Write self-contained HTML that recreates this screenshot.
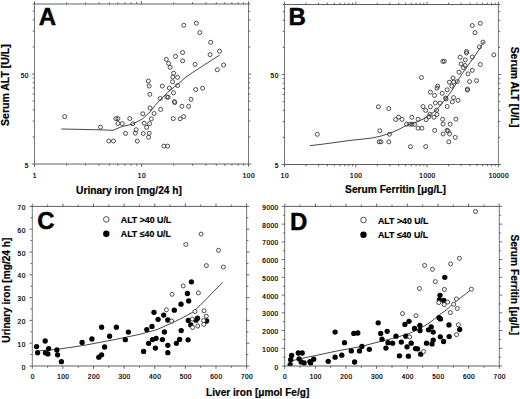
<!DOCTYPE html>
<html><head><meta charset="utf-8"><style>
html,body{margin:0;padding:0;background:#fff;}
body{width:520px;height:399px;overflow:hidden;font-family:"Liberation Sans",sans-serif;}
svg{display:block;}
</style></head><body>
<svg width="520" height="399" viewBox="0 0 520 399" font-family="Liberation Sans, sans-serif">
<rect width="520" height="399" fill="#fff"/>
<defs>
<clipPath id="cA"><rect x="34.5" y="4" width="214" height="160"/></clipPath>
<clipPath id="cB"><rect x="284.5" y="4.5" width="213.9" height="160"/></clipPath>
<clipPath id="cC"><rect x="32.3" y="206.4" width="214.3" height="159.6"/></clipPath>
<clipPath id="cD"><rect x="284.7" y="206.4" width="214.6" height="159.6"/></clipPath>
</defs>
<g clip-path="url(#cA)">
<path d="M61.7 129 L100 129.8 L113 130.3 L122 126.5 L132.5 124.2 L142.6 118.8 L150.1 111.9 L155 105.5 L159.5 100.5 L167.5 92.5 L171 89.6 L180 82.3 L186 77 L192.5 72.6 L200.2 67.6 L205 64.4 L212 60 L219.5 55.2" fill="none" stroke="#333" stroke-width="0.9" stroke-linejoin="round" stroke-linecap="round"/>
<circle cx="64.7" cy="116.6" r="2.0" fill="none" stroke="#3a3a3a" stroke-width="0.9"/>
<circle cx="100.5" cy="127.2" r="2.0" fill="none" stroke="#3a3a3a" stroke-width="0.9"/>
<circle cx="108.8" cy="141" r="2.0" fill="none" stroke="#3a3a3a" stroke-width="0.9"/>
<circle cx="113.5" cy="141" r="2.0" fill="none" stroke="#3a3a3a" stroke-width="0.9"/>
<circle cx="115.8" cy="118.6" r="2.0" fill="none" stroke="#3a3a3a" stroke-width="0.9"/>
<circle cx="117.9" cy="118.6" r="2.0" fill="none" stroke="#3a3a3a" stroke-width="0.9"/>
<circle cx="117.9" cy="123.5" r="2.0" fill="none" stroke="#3a3a3a" stroke-width="0.9"/>
<circle cx="122.3" cy="123.5" r="2.0" fill="none" stroke="#3a3a3a" stroke-width="0.9"/>
<circle cx="125.5" cy="133.4" r="2.0" fill="none" stroke="#3a3a3a" stroke-width="0.9"/>
<circle cx="129.8" cy="118.5" r="2.0" fill="none" stroke="#3a3a3a" stroke-width="0.9"/>
<circle cx="132.8" cy="123.8" r="2.0" fill="none" stroke="#3a3a3a" stroke-width="0.9"/>
<circle cx="136.1" cy="129.7" r="2.0" fill="none" stroke="#3a3a3a" stroke-width="0.9"/>
<circle cx="135.3" cy="133.2" r="2.0" fill="none" stroke="#3a3a3a" stroke-width="0.9"/>
<circle cx="137.3" cy="141.1" r="2.0" fill="none" stroke="#3a3a3a" stroke-width="0.9"/>
<circle cx="142.8" cy="113.8" r="2.0" fill="none" stroke="#3a3a3a" stroke-width="0.9"/>
<circle cx="144.1" cy="123.2" r="2.0" fill="none" stroke="#3a3a3a" stroke-width="0.9"/>
<circle cx="143.2" cy="133.5" r="2.0" fill="none" stroke="#3a3a3a" stroke-width="0.9"/>
<circle cx="146.6" cy="127.3" r="2.0" fill="none" stroke="#3a3a3a" stroke-width="0.9"/>
<circle cx="149.5" cy="123.6" r="2.0" fill="none" stroke="#3a3a3a" stroke-width="0.9"/>
<circle cx="149.2" cy="133.2" r="2.0" fill="none" stroke="#3a3a3a" stroke-width="0.9"/>
<circle cx="148.6" cy="137.2" r="2.0" fill="none" stroke="#3a3a3a" stroke-width="0.9"/>
<circle cx="150.1" cy="108.1" r="2.0" fill="none" stroke="#3a3a3a" stroke-width="0.9"/>
<circle cx="151.3" cy="118.8" r="2.0" fill="none" stroke="#3a3a3a" stroke-width="0.9"/>
<circle cx="154.1" cy="113.5" r="2.0" fill="none" stroke="#3a3a3a" stroke-width="0.9"/>
<circle cx="160.7" cy="109.4" r="2.0" fill="none" stroke="#3a3a3a" stroke-width="0.9"/>
<circle cx="163.9" cy="146.1" r="2.0" fill="none" stroke="#3a3a3a" stroke-width="0.9"/>
<circle cx="167.6" cy="146.1" r="2.0" fill="none" stroke="#3a3a3a" stroke-width="0.9"/>
<circle cx="173.3" cy="118.6" r="2.0" fill="none" stroke="#3a3a3a" stroke-width="0.9"/>
<circle cx="180.1" cy="118.8" r="2.0" fill="none" stroke="#3a3a3a" stroke-width="0.9"/>
<circle cx="183.6" cy="116.6" r="2.0" fill="none" stroke="#3a3a3a" stroke-width="0.9"/>
<circle cx="160.3" cy="98.5" r="2.0" fill="none" stroke="#3a3a3a" stroke-width="0.9"/>
<circle cx="166.9" cy="96.9" r="2.0" fill="none" stroke="#3a3a3a" stroke-width="0.9"/>
<circle cx="168.2" cy="97.3" r="2.0" fill="none" stroke="#3a3a3a" stroke-width="0.9"/>
<circle cx="174.4" cy="101.6" r="2.0" fill="none" stroke="#3a3a3a" stroke-width="0.9"/>
<circle cx="174.8" cy="102.6" r="2.0" fill="none" stroke="#3a3a3a" stroke-width="0.9"/>
<circle cx="173.5" cy="92.8" r="2.0" fill="none" stroke="#3a3a3a" stroke-width="0.9"/>
<circle cx="172.6" cy="81.8" r="2.0" fill="none" stroke="#3a3a3a" stroke-width="0.9"/>
<circle cx="162.3" cy="86.1" r="2.0" fill="none" stroke="#3a3a3a" stroke-width="0.9"/>
<circle cx="169.4" cy="88" r="2.0" fill="none" stroke="#3a3a3a" stroke-width="0.9"/>
<circle cx="177.6" cy="85.5" r="2.0" fill="none" stroke="#3a3a3a" stroke-width="0.9"/>
<circle cx="195.7" cy="89.5" r="2.0" fill="none" stroke="#3a3a3a" stroke-width="0.9"/>
<circle cx="202.6" cy="88.2" r="2.0" fill="none" stroke="#3a3a3a" stroke-width="0.9"/>
<circle cx="191.1" cy="99.3" r="2.0" fill="none" stroke="#3a3a3a" stroke-width="0.9"/>
<circle cx="181.9" cy="106.3" r="2.0" fill="none" stroke="#3a3a3a" stroke-width="0.9"/>
<circle cx="188.6" cy="106.3" r="2.0" fill="none" stroke="#3a3a3a" stroke-width="0.9"/>
<circle cx="148.4" cy="81" r="2.0" fill="none" stroke="#3a3a3a" stroke-width="0.9"/>
<circle cx="149.2" cy="86" r="2.0" fill="none" stroke="#3a3a3a" stroke-width="0.9"/>
<circle cx="149.8" cy="94.3" r="2.0" fill="none" stroke="#3a3a3a" stroke-width="0.9"/>
<circle cx="173.6" cy="73.2" r="2.0" fill="none" stroke="#3a3a3a" stroke-width="0.9"/>
<circle cx="172.8" cy="77" r="2.0" fill="none" stroke="#3a3a3a" stroke-width="0.9"/>
<circle cx="177.6" cy="77.3" r="2.0" fill="none" stroke="#3a3a3a" stroke-width="0.9"/>
<circle cx="166.3" cy="59.4" r="2.0" fill="none" stroke="#3a3a3a" stroke-width="0.9"/>
<circle cx="168.6" cy="63.4" r="2.0" fill="none" stroke="#3a3a3a" stroke-width="0.9"/>
<circle cx="170.1" cy="67.3" r="2.0" fill="none" stroke="#3a3a3a" stroke-width="0.9"/>
<circle cx="175.5" cy="56.3" r="2.0" fill="none" stroke="#3a3a3a" stroke-width="0.9"/>
<circle cx="182.6" cy="52.5" r="2.0" fill="none" stroke="#3a3a3a" stroke-width="0.9"/>
<circle cx="182.6" cy="60.8" r="2.0" fill="none" stroke="#3a3a3a" stroke-width="0.9"/>
<circle cx="195.1" cy="64.4" r="2.0" fill="none" stroke="#3a3a3a" stroke-width="0.9"/>
<circle cx="183.8" cy="25.3" r="2.0" fill="none" stroke="#3a3a3a" stroke-width="0.9"/>
<circle cx="196.3" cy="23.2" r="2.0" fill="none" stroke="#3a3a3a" stroke-width="0.9"/>
<circle cx="199.8" cy="32.6" r="2.0" fill="none" stroke="#3a3a3a" stroke-width="0.9"/>
<circle cx="210.7" cy="42.3" r="2.0" fill="none" stroke="#3a3a3a" stroke-width="0.9"/>
<circle cx="219.5" cy="51.2" r="2.0" fill="none" stroke="#3a3a3a" stroke-width="0.9"/>
<circle cx="210.1" cy="54.6" r="2.0" fill="none" stroke="#3a3a3a" stroke-width="0.9"/>
<circle cx="223.6" cy="65" r="2.0" fill="none" stroke="#3a3a3a" stroke-width="0.9"/>
<circle cx="217.3" cy="69.8" r="2.0" fill="none" stroke="#3a3a3a" stroke-width="0.9"/>
</g>
<g clip-path="url(#cB)">
<path d="M310.2 145.6 L320 144.5 L335 142.5 L350 140.4 L362 139.2 L372 138 L380 136.3 L389.5 133.5 L397.7 130 L406.4 125.4 L416.9 121.9 L424 118.6 L431.8 113.4 L437 109.5 L445.2 99.3 L450.3 93 L454.8 85.8 L462.7 72.8 L472 60 L479.1 49.5 L483.6 42.1" fill="none" stroke="#333" stroke-width="0.9" stroke-linejoin="round" stroke-linecap="round"/>
<circle cx="317.3" cy="134.3" r="2.0" fill="none" stroke="#3a3a3a" stroke-width="0.9"/>
<circle cx="378.4" cy="106.8" r="2.0" fill="none" stroke="#3a3a3a" stroke-width="0.9"/>
<circle cx="388.8" cy="108.6" r="2.0" fill="none" stroke="#3a3a3a" stroke-width="0.9"/>
<circle cx="379.8" cy="130.8" r="2.0" fill="none" stroke="#3a3a3a" stroke-width="0.9"/>
<circle cx="389.5" cy="134.2" r="2.0" fill="none" stroke="#3a3a3a" stroke-width="0.9"/>
<circle cx="379.2" cy="141.8" r="2.0" fill="none" stroke="#3a3a3a" stroke-width="0.9"/>
<circle cx="381" cy="141.8" r="2.0" fill="none" stroke="#3a3a3a" stroke-width="0.9"/>
<circle cx="388.8" cy="141.9" r="2.0" fill="none" stroke="#3a3a3a" stroke-width="0.9"/>
<circle cx="410.4" cy="146.7" r="2.0" fill="none" stroke="#3a3a3a" stroke-width="0.9"/>
<circle cx="425.7" cy="146.6" r="2.0" fill="none" stroke="#3a3a3a" stroke-width="0.9"/>
<circle cx="395.7" cy="119.5" r="2.0" fill="none" stroke="#3a3a3a" stroke-width="0.9"/>
<circle cx="398.5" cy="117.1" r="2.0" fill="none" stroke="#3a3a3a" stroke-width="0.9"/>
<circle cx="402" cy="119.4" r="2.0" fill="none" stroke="#3a3a3a" stroke-width="0.9"/>
<circle cx="411.8" cy="117.3" r="2.0" fill="none" stroke="#3a3a3a" stroke-width="0.9"/>
<circle cx="406.5" cy="124.2" r="2.0" fill="none" stroke="#3a3a3a" stroke-width="0.9"/>
<circle cx="409.8" cy="124.2" r="2.0" fill="none" stroke="#3a3a3a" stroke-width="0.9"/>
<circle cx="412" cy="124.2" r="2.0" fill="none" stroke="#3a3a3a" stroke-width="0.9"/>
<circle cx="414.6" cy="124.4" r="2.0" fill="none" stroke="#3a3a3a" stroke-width="0.9"/>
<circle cx="418.1" cy="119.3" r="2.0" fill="none" stroke="#3a3a3a" stroke-width="0.9"/>
<circle cx="418.1" cy="128.2" r="2.0" fill="none" stroke="#3a3a3a" stroke-width="0.9"/>
<circle cx="421.9" cy="128.2" r="2.0" fill="none" stroke="#3a3a3a" stroke-width="0.9"/>
<circle cx="423" cy="106.6" r="2.0" fill="none" stroke="#3a3a3a" stroke-width="0.9"/>
<circle cx="430.4" cy="106.7" r="2.0" fill="none" stroke="#3a3a3a" stroke-width="0.9"/>
<circle cx="425.7" cy="110.4" r="2.0" fill="none" stroke="#3a3a3a" stroke-width="0.9"/>
<circle cx="426.1" cy="119.7" r="2.0" fill="none" stroke="#3a3a3a" stroke-width="0.9"/>
<circle cx="428.8" cy="116.8" r="2.0" fill="none" stroke="#3a3a3a" stroke-width="0.9"/>
<circle cx="430" cy="114.2" r="2.0" fill="none" stroke="#3a3a3a" stroke-width="0.9"/>
<circle cx="434" cy="117.2" r="2.0" fill="none" stroke="#3a3a3a" stroke-width="0.9"/>
<circle cx="434.7" cy="130.4" r="2.0" fill="none" stroke="#3a3a3a" stroke-width="0.9"/>
<circle cx="436.5" cy="110.2" r="2.0" fill="none" stroke="#3a3a3a" stroke-width="0.9"/>
<circle cx="436.9" cy="114.5" r="2.0" fill="none" stroke="#3a3a3a" stroke-width="0.9"/>
<circle cx="442.6" cy="119.3" r="2.0" fill="none" stroke="#3a3a3a" stroke-width="0.9"/>
<circle cx="455.9" cy="119.2" r="2.0" fill="none" stroke="#3a3a3a" stroke-width="0.9"/>
<circle cx="443.1" cy="124.1" r="2.0" fill="none" stroke="#3a3a3a" stroke-width="0.9"/>
<circle cx="450.2" cy="124.2" r="2.0" fill="none" stroke="#3a3a3a" stroke-width="0.9"/>
<circle cx="447.1" cy="130.3" r="2.0" fill="none" stroke="#3a3a3a" stroke-width="0.9"/>
<circle cx="448" cy="131" r="2.0" fill="none" stroke="#3a3a3a" stroke-width="0.9"/>
<circle cx="443.1" cy="134" r="2.0" fill="none" stroke="#3a3a3a" stroke-width="0.9"/>
<circle cx="449.6" cy="134" r="2.0" fill="none" stroke="#3a3a3a" stroke-width="0.9"/>
<circle cx="455.2" cy="137.4" r="2.0" fill="none" stroke="#3a3a3a" stroke-width="0.9"/>
<circle cx="448.8" cy="141.8" r="2.0" fill="none" stroke="#3a3a3a" stroke-width="0.9"/>
<circle cx="421.4" cy="77.5" r="2.0" fill="none" stroke="#3a3a3a" stroke-width="0.9"/>
<circle cx="430.4" cy="92.2" r="2.0" fill="none" stroke="#3a3a3a" stroke-width="0.9"/>
<circle cx="434.5" cy="95.4" r="2.0" fill="none" stroke="#3a3a3a" stroke-width="0.9"/>
<circle cx="442.2" cy="93.3" r="2.0" fill="none" stroke="#3a3a3a" stroke-width="0.9"/>
<circle cx="435.4" cy="103" r="2.0" fill="none" stroke="#3a3a3a" stroke-width="0.9"/>
<circle cx="440.1" cy="103.1" r="2.0" fill="none" stroke="#3a3a3a" stroke-width="0.9"/>
<circle cx="447.2" cy="106.5" r="2.0" fill="none" stroke="#3a3a3a" stroke-width="0.9"/>
<circle cx="437" cy="88.1" r="2.0" fill="none" stroke="#3a3a3a" stroke-width="0.9"/>
<circle cx="437.7" cy="86.1" r="2.0" fill="none" stroke="#3a3a3a" stroke-width="0.9"/>
<circle cx="447.2" cy="89.8" r="2.0" fill="none" stroke="#3a3a3a" stroke-width="0.9"/>
<circle cx="445.6" cy="98" r="2.0" fill="none" stroke="#3a3a3a" stroke-width="0.9"/>
<circle cx="446.1" cy="98.9" r="2.0" fill="none" stroke="#3a3a3a" stroke-width="0.9"/>
<circle cx="453.5" cy="97.6" r="2.0" fill="none" stroke="#3a3a3a" stroke-width="0.9"/>
<circle cx="458" cy="100.4" r="2.0" fill="none" stroke="#3a3a3a" stroke-width="0.9"/>
<circle cx="452.3" cy="101.9" r="2.0" fill="none" stroke="#3a3a3a" stroke-width="0.9"/>
<circle cx="451.8" cy="86.1" r="2.0" fill="none" stroke="#3a3a3a" stroke-width="0.9"/>
<circle cx="467.4" cy="89" r="2.0" fill="none" stroke="#3a3a3a" stroke-width="0.9"/>
<circle cx="467.4" cy="90.1" r="2.0" fill="none" stroke="#3a3a3a" stroke-width="0.9"/>
<circle cx="449.4" cy="82.2" r="2.0" fill="none" stroke="#3a3a3a" stroke-width="0.9"/>
<circle cx="453.7" cy="82" r="2.0" fill="none" stroke="#3a3a3a" stroke-width="0.9"/>
<circle cx="457.3" cy="81.6" r="2.0" fill="none" stroke="#3a3a3a" stroke-width="0.9"/>
<circle cx="469.5" cy="81.6" r="2.0" fill="none" stroke="#3a3a3a" stroke-width="0.9"/>
<circle cx="476.5" cy="80.7" r="2.0" fill="none" stroke="#3a3a3a" stroke-width="0.9"/>
<circle cx="453.1" cy="78" r="2.0" fill="none" stroke="#3a3a3a" stroke-width="0.9"/>
<circle cx="459" cy="72.2" r="2.0" fill="none" stroke="#3a3a3a" stroke-width="0.9"/>
<circle cx="468.1" cy="73.9" r="2.0" fill="none" stroke="#3a3a3a" stroke-width="0.9"/>
<circle cx="472.3" cy="70.3" r="2.0" fill="none" stroke="#3a3a3a" stroke-width="0.9"/>
<circle cx="461" cy="64" r="2.0" fill="none" stroke="#3a3a3a" stroke-width="0.9"/>
<circle cx="465" cy="65.5" r="2.0" fill="none" stroke="#3a3a3a" stroke-width="0.9"/>
<circle cx="463.3" cy="67.6" r="2.0" fill="none" stroke="#3a3a3a" stroke-width="0.9"/>
<circle cx="480.3" cy="64.5" r="2.0" fill="none" stroke="#3a3a3a" stroke-width="0.9"/>
<circle cx="460.2" cy="57.2" r="2.0" fill="none" stroke="#3a3a3a" stroke-width="0.9"/>
<circle cx="465.2" cy="59.9" r="2.0" fill="none" stroke="#3a3a3a" stroke-width="0.9"/>
<circle cx="472.3" cy="57" r="2.0" fill="none" stroke="#3a3a3a" stroke-width="0.9"/>
<circle cx="466.5" cy="51.5" r="2.0" fill="none" stroke="#3a3a3a" stroke-width="0.9"/>
<circle cx="466.5" cy="53" r="2.0" fill="none" stroke="#3a3a3a" stroke-width="0.9"/>
<circle cx="479.4" cy="46.9" r="2.0" fill="none" stroke="#3a3a3a" stroke-width="0.9"/>
<circle cx="482.9" cy="42.1" r="2.0" fill="none" stroke="#3a3a3a" stroke-width="0.9"/>
<circle cx="475" cy="32.6" r="2.0" fill="none" stroke="#3a3a3a" stroke-width="0.9"/>
<circle cx="472.3" cy="25.5" r="2.0" fill="none" stroke="#3a3a3a" stroke-width="0.9"/>
<circle cx="480.3" cy="23.3" r="2.0" fill="none" stroke="#3a3a3a" stroke-width="0.9"/>
<circle cx="493.8" cy="54.8" r="2.0" fill="none" stroke="#3a3a3a" stroke-width="0.9"/>
<circle cx="442.8" cy="61.3" r="2.0" fill="none" stroke="#3a3a3a" stroke-width="0.9"/>
<circle cx="444.3" cy="61.3" r="2.0" fill="none" stroke="#3a3a3a" stroke-width="0.9"/>
</g>
<g clip-path="url(#cC)">
<path d="M35.5 351.1 L57.6 349.3 L85 345.2 L115 339.5 L140 334.3 L157 329.6 L167 325.2 L175 321.5 L185 316.5 L193 312 L200 305.5 L207 298.3 L215 290 L222.4 282.8" fill="none" stroke="#333" stroke-width="0.9" stroke-linejoin="round" stroke-linecap="round"/>
<circle cx="36.6" cy="346.6" r="2.65" fill="#000"/>
<circle cx="37.6" cy="352.8" r="2.65" fill="#000"/>
<circle cx="45.2" cy="341" r="2.65" fill="#000"/>
<circle cx="48.6" cy="348.6" r="2.65" fill="#000"/>
<circle cx="45.4" cy="352.8" r="2.65" fill="#000"/>
<circle cx="47.9" cy="353.9" r="2.65" fill="#000"/>
<circle cx="56.9" cy="350" r="2.65" fill="#000"/>
<circle cx="57.6" cy="354.8" r="2.65" fill="#000"/>
<circle cx="61.4" cy="361.7" r="2.65" fill="#000"/>
<circle cx="82.1" cy="342.4" r="2.65" fill="#000"/>
<circle cx="91.9" cy="339" r="2.65" fill="#000"/>
<circle cx="101.6" cy="327.2" r="2.65" fill="#000"/>
<circle cx="116.4" cy="327.2" r="2.65" fill="#000"/>
<circle cx="109.6" cy="336.2" r="2.65" fill="#000"/>
<circle cx="128.4" cy="332.1" r="2.65" fill="#000"/>
<circle cx="125.3" cy="339.7" r="2.65" fill="#000"/>
<circle cx="104.6" cy="347" r="2.65" fill="#000"/>
<circle cx="101.6" cy="354.8" r="2.65" fill="#000"/>
<circle cx="98.8" cy="357.2" r="2.65" fill="#000"/>
<circle cx="143.6" cy="351.4" r="2.65" fill="#000"/>
<circle cx="181" cy="304.2" r="2.65" fill="#000"/>
<circle cx="188.7" cy="300.9" r="2.65" fill="#000"/>
<circle cx="154" cy="312.3" r="2.65" fill="#000"/>
<circle cx="174.3" cy="310.2" r="2.65" fill="#000"/>
<circle cx="163.7" cy="315.1" r="2.65" fill="#000"/>
<circle cx="158.1" cy="319.3" r="2.65" fill="#000"/>
<circle cx="167.8" cy="320" r="2.65" fill="#000"/>
<circle cx="152" cy="326.4" r="2.65" fill="#000"/>
<circle cx="146.8" cy="329.6" r="2.65" fill="#000"/>
<circle cx="164.4" cy="332" r="2.65" fill="#000"/>
<circle cx="181.2" cy="330.6" r="2.65" fill="#000"/>
<circle cx="188.3" cy="320.4" r="2.65" fill="#000"/>
<circle cx="190.8" cy="325" r="2.65" fill="#000"/>
<circle cx="195.9" cy="320.2" r="2.65" fill="#000"/>
<circle cx="197.5" cy="318.2" r="2.65" fill="#000"/>
<circle cx="206.6" cy="321" r="2.65" fill="#000"/>
<circle cx="152.5" cy="339.6" r="2.65" fill="#000"/>
<circle cx="156.1" cy="338.3" r="2.65" fill="#000"/>
<circle cx="162.4" cy="339.6" r="2.65" fill="#000"/>
<circle cx="179.6" cy="339.4" r="2.65" fill="#000"/>
<circle cx="176.4" cy="343.3" r="2.65" fill="#000"/>
<circle cx="188.1" cy="339.8" r="2.65" fill="#000"/>
<circle cx="148.6" cy="343.3" r="2.65" fill="#000"/>
<circle cx="167.8" cy="345.3" r="2.65" fill="#000"/>
<circle cx="155.4" cy="348.1" r="2.65" fill="#000"/>
<circle cx="167.8" cy="352.7" r="2.65" fill="#000"/>
<circle cx="187.4" cy="293.5" r="2.65" fill="#000"/>
<circle cx="191.4" cy="281.8" r="2.65" fill="#000"/>
<circle cx="166.4" cy="309.8" r="2.0" fill="#fff" stroke="#3a3a3a" stroke-width="0.9"/>
<circle cx="171.6" cy="321.1" r="2.0" fill="#fff" stroke="#3a3a3a" stroke-width="0.9"/>
<circle cx="172.1" cy="294.3" r="2.0" fill="#fff" stroke="#3a3a3a" stroke-width="0.9"/>
<circle cx="183.2" cy="285.9" r="2.0" fill="#fff" stroke="#3a3a3a" stroke-width="0.9"/>
<circle cx="198.4" cy="292.9" r="2.0" fill="#fff" stroke="#3a3a3a" stroke-width="0.9"/>
<circle cx="185.8" cy="244.5" r="2.0" fill="#fff" stroke="#3a3a3a" stroke-width="0.9"/>
<circle cx="201.1" cy="234.1" r="2.0" fill="#fff" stroke="#3a3a3a" stroke-width="0.9"/>
<circle cx="218.5" cy="250.3" r="2.0" fill="#fff" stroke="#3a3a3a" stroke-width="0.9"/>
<circle cx="206.4" cy="265.6" r="2.0" fill="#fff" stroke="#3a3a3a" stroke-width="0.9"/>
<circle cx="223.4" cy="267.1" r="2.0" fill="#fff" stroke="#3a3a3a" stroke-width="0.9"/>
<circle cx="195" cy="311.5" r="2.0" fill="#fff" stroke="#3a3a3a" stroke-width="0.9"/>
<circle cx="204.1" cy="310.8" r="2.0" fill="#fff" stroke="#3a3a3a" stroke-width="0.9"/>
<circle cx="206.3" cy="316.2" r="2.0" fill="#fff" stroke="#3a3a3a" stroke-width="0.9"/>
<circle cx="192.3" cy="319" r="2.0" fill="#fff" stroke="#3a3a3a" stroke-width="0.9"/>
<circle cx="203.5" cy="320.5" r="2.0" fill="#fff" stroke="#3a3a3a" stroke-width="0.9"/>
<circle cx="203.8" cy="324.4" r="2.0" fill="#fff" stroke="#3a3a3a" stroke-width="0.9"/>
<circle cx="197.7" cy="326" r="2.0" fill="#fff" stroke="#3a3a3a" stroke-width="0.9"/>
<circle cx="192.5" cy="327.5" r="2.0" fill="#fff" stroke="#3a3a3a" stroke-width="0.9"/>
</g>
<g clip-path="url(#cD)">
<path d="M291 361 L302 358.3 L315 355.7 L332 352 L342 350 L361.1 346.5 L380 341.5 L395 337.8 L409.5 333.4 L420 328.5 L430 322.5 L440 314.4 L446.3 310 L455 302 L463 296 L471.4 289.4" fill="none" stroke="#333" stroke-width="0.9" stroke-linejoin="round" stroke-linecap="round"/>
<circle cx="291.6" cy="355.4" r="2.65" fill="#000"/>
<circle cx="290.7" cy="359.7" r="2.65" fill="#000"/>
<circle cx="290.2" cy="364.6" r="2.65" fill="#000"/>
<circle cx="298.3" cy="353" r="2.65" fill="#000"/>
<circle cx="302.2" cy="353" r="2.65" fill="#000"/>
<circle cx="299.1" cy="358.8" r="2.65" fill="#000"/>
<circle cx="301.2" cy="361.9" r="2.65" fill="#000"/>
<circle cx="304.1" cy="362.9" r="2.65" fill="#000"/>
<circle cx="309.9" cy="361.6" r="2.65" fill="#000"/>
<circle cx="310.7" cy="362.9" r="2.65" fill="#000"/>
<circle cx="313.7" cy="359.2" r="2.65" fill="#000"/>
<circle cx="328.2" cy="361.3" r="2.65" fill="#000"/>
<circle cx="335.1" cy="332.1" r="2.65" fill="#000"/>
<circle cx="335.1" cy="357.2" r="2.65" fill="#000"/>
<circle cx="341.8" cy="355.2" r="2.65" fill="#000"/>
<circle cx="344.5" cy="342.7" r="2.65" fill="#000"/>
<circle cx="353.8" cy="333.4" r="2.65" fill="#000"/>
<circle cx="357.8" cy="333" r="2.65" fill="#000"/>
<circle cx="351.3" cy="350.9" r="2.65" fill="#000"/>
<circle cx="354.6" cy="362" r="2.65" fill="#000"/>
<circle cx="359.5" cy="350.9" r="2.65" fill="#000"/>
<circle cx="361.9" cy="346.5" r="2.65" fill="#000"/>
<circle cx="369.3" cy="349.3" r="2.65" fill="#000"/>
<circle cx="378.2" cy="322.8" r="2.65" fill="#000"/>
<circle cx="380.7" cy="333.4" r="2.65" fill="#000"/>
<circle cx="387.2" cy="331.3" r="2.65" fill="#000"/>
<circle cx="382" cy="339.2" r="2.65" fill="#000"/>
<circle cx="388" cy="342.7" r="2.65" fill="#000"/>
<circle cx="392.6" cy="343.2" r="2.65" fill="#000"/>
<circle cx="385.9" cy="348.1" r="2.65" fill="#000"/>
<circle cx="396" cy="336.2" r="2.65" fill="#000"/>
<circle cx="401.3" cy="342.1" r="2.65" fill="#000"/>
<circle cx="399.4" cy="355.8" r="2.65" fill="#000"/>
<circle cx="405.9" cy="336.2" r="2.65" fill="#000"/>
<circle cx="409" cy="321.3" r="2.65" fill="#000"/>
<circle cx="404.9" cy="324.4" r="2.65" fill="#000"/>
<circle cx="419.9" cy="325.5" r="2.65" fill="#000"/>
<circle cx="414.5" cy="328.5" r="2.65" fill="#000"/>
<circle cx="420" cy="330.5" r="2.65" fill="#000"/>
<circle cx="431.2" cy="326.9" r="2.65" fill="#000"/>
<circle cx="428.5" cy="329.8" r="2.65" fill="#000"/>
<circle cx="433.2" cy="332.1" r="2.65" fill="#000"/>
<circle cx="439" cy="317.7" r="2.65" fill="#000"/>
<circle cx="440.5" cy="318.9" r="2.65" fill="#000"/>
<circle cx="440.3" cy="336.8" r="2.65" fill="#000"/>
<circle cx="411.2" cy="343.2" r="2.65" fill="#000"/>
<circle cx="407" cy="346.8" r="2.65" fill="#000"/>
<circle cx="426.5" cy="343.2" r="2.65" fill="#000"/>
<circle cx="433.2" cy="340.1" r="2.65" fill="#000"/>
<circle cx="432" cy="343.9" r="2.65" fill="#000"/>
<circle cx="443.6" cy="341.5" r="2.65" fill="#000"/>
<circle cx="415.5" cy="348.6" r="2.65" fill="#000"/>
<circle cx="417.6" cy="348.8" r="2.65" fill="#000"/>
<circle cx="420.7" cy="354.2" r="2.65" fill="#000"/>
<circle cx="408.4" cy="356.2" r="2.65" fill="#000"/>
<circle cx="440" cy="295.3" r="2.65" fill="#000"/>
<circle cx="439.4" cy="299.8" r="2.65" fill="#000"/>
<circle cx="443.8" cy="300.4" r="2.65" fill="#000"/>
<circle cx="449" cy="324.9" r="2.65" fill="#000"/>
<circle cx="459.7" cy="329.5" r="2.65" fill="#000"/>
<circle cx="449.2" cy="336.6" r="2.65" fill="#000"/>
<circle cx="444.8" cy="277.3" r="2.65" fill="#000"/>
<circle cx="402.5" cy="313.6" r="2.0" fill="#fff" stroke="#3a3a3a" stroke-width="0.9"/>
<circle cx="416" cy="315.7" r="2.0" fill="#fff" stroke="#3a3a3a" stroke-width="0.9"/>
<circle cx="409.7" cy="336.9" r="2.0" fill="#fff" stroke="#3a3a3a" stroke-width="0.9"/>
<circle cx="423.6" cy="351.5" r="2.0" fill="#fff" stroke="#3a3a3a" stroke-width="0.9"/>
<circle cx="438.8" cy="302.6" r="2.0" fill="#fff" stroke="#3a3a3a" stroke-width="0.9"/>
<circle cx="444.2" cy="304.6" r="2.0" fill="#fff" stroke="#3a3a3a" stroke-width="0.9"/>
<circle cx="447.6" cy="302.1" r="2.0" fill="#fff" stroke="#3a3a3a" stroke-width="0.9"/>
<circle cx="453.7" cy="304.3" r="2.0" fill="#fff" stroke="#3a3a3a" stroke-width="0.9"/>
<circle cx="456.4" cy="299" r="2.0" fill="#fff" stroke="#3a3a3a" stroke-width="0.9"/>
<circle cx="457.3" cy="308.5" r="2.0" fill="#fff" stroke="#3a3a3a" stroke-width="0.9"/>
<circle cx="450.3" cy="312.6" r="2.0" fill="#fff" stroke="#3a3a3a" stroke-width="0.9"/>
<circle cx="458.4" cy="324.8" r="2.0" fill="#fff" stroke="#3a3a3a" stroke-width="0.9"/>
<circle cx="456.5" cy="334.7" r="2.0" fill="#fff" stroke="#3a3a3a" stroke-width="0.9"/>
<circle cx="444.4" cy="289.4" r="2.0" fill="#fff" stroke="#3a3a3a" stroke-width="0.9"/>
<circle cx="471.4" cy="289.2" r="2.0" fill="#fff" stroke="#3a3a3a" stroke-width="0.9"/>
<circle cx="435.3" cy="281.6" r="2.0" fill="#fff" stroke="#3a3a3a" stroke-width="0.9"/>
<circle cx="432.4" cy="269.3" r="2.0" fill="#fff" stroke="#3a3a3a" stroke-width="0.9"/>
<circle cx="424.6" cy="265.4" r="2.0" fill="#fff" stroke="#3a3a3a" stroke-width="0.9"/>
<circle cx="450.6" cy="263.9" r="2.0" fill="#fff" stroke="#3a3a3a" stroke-width="0.9"/>
<circle cx="459.4" cy="258.3" r="2.0" fill="#fff" stroke="#3a3a3a" stroke-width="0.9"/>
<circle cx="475.5" cy="211.5" r="2.0" fill="#fff" stroke="#3a3a3a" stroke-width="0.9"/>
<circle cx="419.4" cy="288.5" r="2.0" fill="#fff" stroke="#3a3a3a" stroke-width="0.9"/>
</g>
<path d="M34 4H249M34 164H249" stroke="#606060" stroke-width="1.0" fill="none"/>
<path d="M34.5 4V164M248.5 4V164" stroke="#777" stroke-width="1.0" fill="none"/>
<path d="M284 4.5H498.9M284 164.5H498.9" stroke="#606060" stroke-width="1.0" fill="none"/>
<path d="M284.5 4.5V164.5M498.4 4.5V164.5" stroke="#777" stroke-width="1.0" fill="none"/>
<path d="M31.8 206.4H247.1M31.8 366H247.1" stroke="#606060" stroke-width="1.0" fill="none"/>
<path d="M32.3 206.4V366M246.6 206.4V366" stroke="#777" stroke-width="1.0" fill="none"/>
<path d="M284.2 206.4H499.8M284.2 366H499.8" stroke="#606060" stroke-width="1.0" fill="none"/>
<path d="M284.7 206.4V366M499.3 206.4V366" stroke="#777" stroke-width="1.0" fill="none"/>
<path d="M34.5 164v2.8M34.5 4v-2.8M66.71 164v1.8M66.71 4v-1.8M85.55 164v1.8M85.55 4v-1.8M98.92 164v1.8M98.92 4v-1.8M109.29 164v1.8M109.29 4v-1.8M117.76 164v1.8M117.76 4v-1.8M124.93 164v1.8M124.93 4v-1.8M131.13 164v1.8M131.13 4v-1.8M136.6 164v1.8M136.6 4v-1.8M141.5 164v2.8M141.5 4v-2.8M173.71 164v1.8M173.71 4v-1.8M192.55 164v1.8M192.55 4v-1.8M205.92 164v1.8M205.92 4v-1.8M216.29 164v1.8M216.29 4v-1.8M224.76 164v1.8M224.76 4v-1.8M231.93 164v1.8M231.93 4v-1.8M238.13 164v1.8M238.13 4v-1.8M243.6 164v1.8M243.6 4v-1.8M248.5 164v2.8M248.5 4v-2.8" stroke="#444" stroke-width="0.8" fill="none"/>
<path d="M34.5 164h-2.8M248.5 164h2.8M34.5 136.91h-1.8M248.5 136.91h1.8M34.5 121.07h-1.8M248.5 121.07h1.8M34.5 109.83h-1.8M248.5 109.83h1.8M34.5 101.11h-1.8M248.5 101.11h1.8M34.5 93.98h-1.8M248.5 93.98h1.8M34.5 87.96h-1.8M248.5 87.96h1.8M34.5 82.74h-1.8M248.5 82.74h1.8M34.5 78.14h-1.8M248.5 78.14h1.8M34.5 74.02h-2.8M248.5 74.02h2.8M34.5 46.93h-1.8M248.5 46.93h1.8M34.5 31.09h-1.8M248.5 31.09h1.8M34.5 19.84h-1.8M248.5 19.84h1.8M34.5 11.12h-1.8M248.5 11.12h1.8M34.5 4h-1.8M248.5 4h1.8" stroke="#444" stroke-width="0.8" fill="none"/>
<path d="M284.5 164.5v2.8M284.5 4.5v-2.8M305.96 164.5v1.8M305.96 4.5v-1.8M318.52 164.5v1.8M318.52 4.5v-1.8M327.43 164.5v1.8M327.43 4.5v-1.8M334.34 164.5v1.8M334.34 4.5v-1.8M339.98 164.5v1.8M339.98 4.5v-1.8M344.76 164.5v1.8M344.76 4.5v-1.8M348.89 164.5v1.8M348.89 4.5v-1.8M352.54 164.5v1.8M352.54 4.5v-1.8M355.8 164.5v2.8M355.8 4.5v-2.8M377.26 164.5v1.8M377.26 4.5v-1.8M389.82 164.5v1.8M389.82 4.5v-1.8M398.73 164.5v1.8M398.73 4.5v-1.8M405.64 164.5v1.8M405.64 4.5v-1.8M411.28 164.5v1.8M411.28 4.5v-1.8M416.06 164.5v1.8M416.06 4.5v-1.8M420.19 164.5v1.8M420.19 4.5v-1.8M423.84 164.5v1.8M423.84 4.5v-1.8M427.1 164.5v2.8M427.1 4.5v-2.8M448.56 164.5v1.8M448.56 4.5v-1.8M461.12 164.5v1.8M461.12 4.5v-1.8M470.03 164.5v1.8M470.03 4.5v-1.8M476.94 164.5v1.8M476.94 4.5v-1.8M482.58 164.5v1.8M482.58 4.5v-1.8M487.36 164.5v1.8M487.36 4.5v-1.8M491.49 164.5v1.8M491.49 4.5v-1.8M495.14 164.5v1.8M495.14 4.5v-1.8M498.4 164.5v2.8M498.4 4.5v-2.8" stroke="#444" stroke-width="0.8" fill="none"/>
<path d="M284.5 164.5h-2.8M498.4 164.5h2.8M284.5 137.41h-1.8M498.4 137.41h1.8M284.5 121.57h-1.8M498.4 121.57h1.8M284.5 110.33h-1.8M498.4 110.33h1.8M284.5 101.61h-1.8M498.4 101.61h1.8M284.5 94.48h-1.8M498.4 94.48h1.8M284.5 88.46h-1.8M498.4 88.46h1.8M284.5 83.24h-1.8M498.4 83.24h1.8M284.5 78.64h-1.8M498.4 78.64h1.8M284.5 74.52h-2.8M498.4 74.52h2.8M284.5 47.43h-1.8M498.4 47.43h1.8M284.5 31.59h-1.8M498.4 31.59h1.8M284.5 20.34h-1.8M498.4 20.34h1.8M284.5 11.62h-1.8M498.4 11.62h1.8M284.5 4.5h-1.8M498.4 4.5h1.8" stroke="#444" stroke-width="0.8" fill="none"/>
<path d="M32.3 366v2.8M32.3 206.4v-2.8M47.61 366v1.8M47.61 206.4v-1.8M62.91 366v2.8M62.91 206.4v-2.8M78.22 366v1.8M78.22 206.4v-1.8M93.53 366v2.8M93.53 206.4v-2.8M108.84 366v1.8M108.84 206.4v-1.8M124.14 366v2.8M124.14 206.4v-2.8M139.45 366v1.8M139.45 206.4v-1.8M154.76 366v2.8M154.76 206.4v-2.8M170.06 366v1.8M170.06 206.4v-1.8M185.37 366v2.8M185.37 206.4v-2.8M200.68 366v1.8M200.68 206.4v-1.8M215.99 366v2.8M215.99 206.4v-2.8M231.29 366v1.8M231.29 206.4v-1.8M246.6 366v2.8M246.6 206.4v-2.8" stroke="#444" stroke-width="0.8" fill="none"/>
<path d="M32.3 366h-2.8M246.6 366h2.8M32.3 354.6h-1.8M246.6 354.6h1.8M32.3 343.2h-2.8M246.6 343.2h2.8M32.3 331.8h-1.8M246.6 331.8h1.8M32.3 320.4h-2.8M246.6 320.4h2.8M32.3 309h-1.8M246.6 309h1.8M32.3 297.6h-2.8M246.6 297.6h2.8M32.3 286.2h-1.8M246.6 286.2h1.8M32.3 274.8h-2.8M246.6 274.8h2.8M32.3 263.4h-1.8M246.6 263.4h1.8M32.3 252h-2.8M246.6 252h2.8M32.3 240.6h-1.8M246.6 240.6h1.8M32.3 229.2h-2.8M246.6 229.2h2.8M32.3 217.8h-1.8M246.6 217.8h1.8M32.3 206.4h-2.8M246.6 206.4h2.8" stroke="#444" stroke-width="0.8" fill="none"/>
<path d="M284.7 366v2.8M284.7 206.4v-2.8M300.03 366v1.8M300.03 206.4v-1.8M315.36 366v2.8M315.36 206.4v-2.8M330.69 366v1.8M330.69 206.4v-1.8M346.01 366v2.8M346.01 206.4v-2.8M361.34 366v1.8M361.34 206.4v-1.8M376.67 366v2.8M376.67 206.4v-2.8M392 366v1.8M392 206.4v-1.8M407.33 366v2.8M407.33 206.4v-2.8M422.66 366v1.8M422.66 206.4v-1.8M437.99 366v2.8M437.99 206.4v-2.8M453.31 366v1.8M453.31 206.4v-1.8M468.64 366v2.8M468.64 206.4v-2.8M483.97 366v1.8M483.97 206.4v-1.8M499.3 366v2.8M499.3 206.4v-2.8" stroke="#444" stroke-width="0.8" fill="none"/>
<path d="M284.7 366h-2.8M499.3 366h2.8M284.7 357.13h-1.8M499.3 357.13h1.8M284.7 348.27h-2.8M499.3 348.27h2.8M284.7 339.4h-1.8M499.3 339.4h1.8M284.7 330.53h-2.8M499.3 330.53h2.8M284.7 321.67h-1.8M499.3 321.67h1.8M284.7 312.8h-2.8M499.3 312.8h2.8M284.7 303.93h-1.8M499.3 303.93h1.8M284.7 295.07h-2.8M499.3 295.07h2.8M284.7 286.2h-1.8M499.3 286.2h1.8M284.7 277.33h-2.8M499.3 277.33h2.8M284.7 268.47h-1.8M499.3 268.47h1.8M284.7 259.6h-2.8M499.3 259.6h2.8M284.7 250.73h-1.8M499.3 250.73h1.8M284.7 241.87h-2.8M499.3 241.87h2.8M284.7 233h-1.8M499.3 233h1.8M284.7 224.13h-2.8M499.3 224.13h2.8M284.7 215.27h-1.8M499.3 215.27h1.8M284.7 206.4h-2.8M499.3 206.4h2.8" stroke="#444" stroke-width="0.8" fill="none"/>
<text x="34.9" y="177.9" font-size="6.5" text-anchor="middle" font-weight="normal" letter-spacing="0.45" stroke="#000" stroke-width="0.22">1</text>
<text x="141.9" y="177.9" font-size="6.5" text-anchor="middle" font-weight="normal" letter-spacing="0.45" stroke="#000" stroke-width="0.22">10</text>
<text x="248.9" y="177.9" font-size="6.5" text-anchor="middle" font-weight="normal" letter-spacing="0.45" stroke="#000" stroke-width="0.22">100</text>
<text x="28.85" y="167.9" font-size="6.5" text-anchor="end" font-weight="normal" letter-spacing="0.45" stroke="#000" stroke-width="0.22">5</text>
<text x="28.85" y="77.92" font-size="6.5" text-anchor="end" font-weight="normal" letter-spacing="0.45" stroke="#000" stroke-width="0.22">50</text>
<text x="284.9" y="178" font-size="6.5" text-anchor="middle" font-weight="normal" letter-spacing="0.45" stroke="#000" stroke-width="0.22">10</text>
<text x="356.2" y="178" font-size="6.5" text-anchor="middle" font-weight="normal" letter-spacing="0.45" stroke="#000" stroke-width="0.22">100</text>
<text x="427.5" y="178" font-size="6.5" text-anchor="middle" font-weight="normal" letter-spacing="0.45" stroke="#000" stroke-width="0.22">1000</text>
<text x="498.8" y="178" font-size="6.5" text-anchor="middle" font-weight="normal" letter-spacing="0.45" stroke="#000" stroke-width="0.22">10000</text>
<text x="278.75" y="168.4" font-size="6.5" text-anchor="end" font-weight="normal" letter-spacing="0.45" stroke="#000" stroke-width="0.22">5</text>
<text x="278.75" y="78.42" font-size="6.5" text-anchor="end" font-weight="normal" letter-spacing="0.45" stroke="#000" stroke-width="0.22">50</text>
<text x="32.7" y="379.4" font-size="6.5" text-anchor="middle" font-weight="normal" letter-spacing="0.45" stroke="#000" stroke-width="0.22">0</text>
<text x="63.31" y="379.4" font-size="6.5" text-anchor="middle" font-weight="normal" letter-spacing="0.45" stroke="#000" stroke-width="0.22">100</text>
<text x="93.93" y="379.4" font-size="6.5" text-anchor="middle" font-weight="normal" letter-spacing="0.45" stroke="#000" stroke-width="0.22">200</text>
<text x="124.54" y="379.4" font-size="6.5" text-anchor="middle" font-weight="normal" letter-spacing="0.45" stroke="#000" stroke-width="0.22">300</text>
<text x="155.16" y="379.4" font-size="6.5" text-anchor="middle" font-weight="normal" letter-spacing="0.45" stroke="#000" stroke-width="0.22">400</text>
<text x="185.77" y="379.4" font-size="6.5" text-anchor="middle" font-weight="normal" letter-spacing="0.45" stroke="#000" stroke-width="0.22">500</text>
<text x="216.39" y="379.4" font-size="6.5" text-anchor="middle" font-weight="normal" letter-spacing="0.45" stroke="#000" stroke-width="0.22">600</text>
<text x="247" y="379.4" font-size="6.5" text-anchor="middle" font-weight="normal" letter-spacing="0.45" stroke="#000" stroke-width="0.22">700</text>
<text x="25.75" y="369.6" font-size="6.5" text-anchor="end" font-weight="normal" letter-spacing="0.45" stroke="#000" stroke-width="0.22">0</text>
<text x="25.75" y="346.8" font-size="6.5" text-anchor="end" font-weight="normal" letter-spacing="0.45" stroke="#000" stroke-width="0.22">10</text>
<text x="25.75" y="324" font-size="6.5" text-anchor="end" font-weight="normal" letter-spacing="0.45" stroke="#000" stroke-width="0.22">20</text>
<text x="25.75" y="301.2" font-size="6.5" text-anchor="end" font-weight="normal" letter-spacing="0.45" stroke="#000" stroke-width="0.22">30</text>
<text x="25.75" y="278.4" font-size="6.5" text-anchor="end" font-weight="normal" letter-spacing="0.45" stroke="#000" stroke-width="0.22">40</text>
<text x="25.75" y="255.6" font-size="6.5" text-anchor="end" font-weight="normal" letter-spacing="0.45" stroke="#000" stroke-width="0.22">50</text>
<text x="25.75" y="232.8" font-size="6.5" text-anchor="end" font-weight="normal" letter-spacing="0.45" stroke="#000" stroke-width="0.22">60</text>
<text x="25.75" y="210" font-size="6.5" text-anchor="end" font-weight="normal" letter-spacing="0.45" stroke="#000" stroke-width="0.22">70</text>
<text x="285.1" y="379.4" font-size="6.5" text-anchor="middle" font-weight="normal" letter-spacing="0.45" stroke="#000" stroke-width="0.22">0</text>
<text x="315.76" y="379.4" font-size="6.5" text-anchor="middle" font-weight="normal" letter-spacing="0.45" stroke="#000" stroke-width="0.22">100</text>
<text x="346.41" y="379.4" font-size="6.5" text-anchor="middle" font-weight="normal" letter-spacing="0.45" stroke="#000" stroke-width="0.22">200</text>
<text x="377.07" y="379.4" font-size="6.5" text-anchor="middle" font-weight="normal" letter-spacing="0.45" stroke="#000" stroke-width="0.22">300</text>
<text x="407.73" y="379.4" font-size="6.5" text-anchor="middle" font-weight="normal" letter-spacing="0.45" stroke="#000" stroke-width="0.22">400</text>
<text x="438.39" y="379.4" font-size="6.5" text-anchor="middle" font-weight="normal" letter-spacing="0.45" stroke="#000" stroke-width="0.22">500</text>
<text x="469.04" y="379.4" font-size="6.5" text-anchor="middle" font-weight="normal" letter-spacing="0.45" stroke="#000" stroke-width="0.22">600</text>
<text x="499.7" y="379.4" font-size="6.5" text-anchor="middle" font-weight="normal" letter-spacing="0.45" stroke="#000" stroke-width="0.22">700</text>
<text x="278.6" y="369.6" font-size="6.5" text-anchor="end" font-weight="normal" letter-spacing="0.45" stroke="#000" stroke-width="0.22">0</text>
<text x="278.6" y="351.87" font-size="6.5" text-anchor="end" font-weight="normal" letter-spacing="0.45" stroke="#000" stroke-width="0.22">1000</text>
<text x="278.6" y="334.13" font-size="6.5" text-anchor="end" font-weight="normal" letter-spacing="0.45" stroke="#000" stroke-width="0.22">2000</text>
<text x="278.6" y="316.4" font-size="6.5" text-anchor="end" font-weight="normal" letter-spacing="0.45" stroke="#000" stroke-width="0.22">3000</text>
<text x="278.6" y="298.67" font-size="6.5" text-anchor="end" font-weight="normal" letter-spacing="0.45" stroke="#000" stroke-width="0.22">4000</text>
<text x="278.6" y="280.93" font-size="6.5" text-anchor="end" font-weight="normal" letter-spacing="0.45" stroke="#000" stroke-width="0.22">5000</text>
<text x="278.6" y="263.2" font-size="6.5" text-anchor="end" font-weight="normal" letter-spacing="0.45" stroke="#000" stroke-width="0.22">6000</text>
<text x="278.6" y="245.47" font-size="6.5" text-anchor="end" font-weight="normal" letter-spacing="0.45" stroke="#000" stroke-width="0.22">7000</text>
<text x="278.6" y="227.73" font-size="6.5" text-anchor="end" font-weight="normal" letter-spacing="0.45" stroke="#000" stroke-width="0.22">8000</text>
<text x="278.6" y="210" font-size="6.5" text-anchor="end" font-weight="normal" letter-spacing="0.45" stroke="#000" stroke-width="0.22">9000</text>
<text x="38.8" y="25.1" font-size="24" text-anchor="start" font-weight="bold" stroke="#000" stroke-width="0.45" stroke-linejoin="round">A</text>
<text x="288.6" y="24.8" font-size="24" text-anchor="start" font-weight="bold" stroke="#000" stroke-width="0.45" stroke-linejoin="round">B</text>
<text x="37.3" y="228.7" font-size="24" text-anchor="start" font-weight="bold" stroke="#000" stroke-width="0.45" stroke-linejoin="round">C</text>
<text x="290" y="229.8" font-size="24" text-anchor="start" font-weight="bold" stroke="#000" stroke-width="0.45" stroke-linejoin="round">D</text>
<text x="129" y="193.5" font-size="10.2" text-anchor="middle" font-weight="bold" stroke="#000" stroke-width="0.2">Urinary iron [mg/24 h]</text>
<text x="395.5" y="192.9" font-size="10.2" text-anchor="middle" font-weight="bold" stroke="#000" stroke-width="0.2">Serum Ferritin [μg/L]</text>
<text x="257.7" y="395.6" font-size="10.1" text-anchor="middle" font-weight="bold" stroke="#000" stroke-width="0.2">Liver iron [μmol Fe/g]</text>
<text x="9.4" y="85.1" font-size="10.5" text-anchor="middle" font-weight="bold" transform="rotate(-90 9.4 85.1)" stroke="#000" stroke-width="0.2">Serum ALT [U/L]</text>
<text x="511" y="87.1" font-size="10.4" text-anchor="middle" font-weight="bold" transform="rotate(90 511 87.1)" stroke="#000" stroke-width="0.2">Serum ALT [U/L]</text>
<text x="9.8" y="290.2" font-size="10.1" text-anchor="middle" font-weight="bold" transform="rotate(-90 9.8 290.2)" stroke="#000" stroke-width="0.2">Urinary iron [mg/24 h]</text>
<text x="510.5" y="284.8" font-size="10.2" text-anchor="middle" font-weight="bold" transform="rotate(90 510.5 284.8)" stroke="#000" stroke-width="0.2">Serum Ferritin [μg/L]</text>
<circle cx="106.3" cy="219.4" r="2.8" fill="none" stroke="#3a3a3a" stroke-width="0.9"/>
<circle cx="106.3" cy="233.8" r="3.2" fill="#000"/>
<text x="120.8" y="222.8" font-size="8.8" text-anchor="start" font-weight="bold" stroke="#000" stroke-width="0.2">ALT &gt;40 U/L</text>
<text x="120.8" y="237.1" font-size="8.8" text-anchor="start" font-weight="bold" stroke="#000" stroke-width="0.2">ALT ≤40 U/L</text>
<circle cx="363.5" cy="220" r="2.8" fill="none" stroke="#3a3a3a" stroke-width="0.9"/>
<circle cx="363.5" cy="234.8" r="3.2" fill="#000"/>
<text x="378" y="223.7" font-size="8.8" text-anchor="start" font-weight="bold" stroke="#000" stroke-width="0.2">ALT &gt;40 U/L</text>
<text x="378" y="238" font-size="8.8" text-anchor="start" font-weight="bold" stroke="#000" stroke-width="0.2">ALT ≤40 U/L</text>
</svg>
</body></html>
